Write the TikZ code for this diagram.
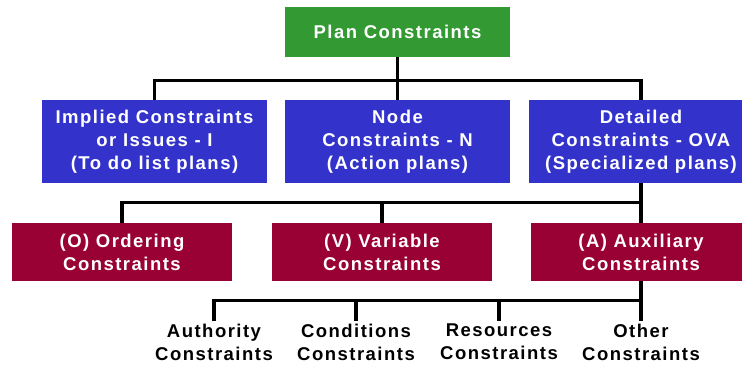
\documentclass[tikz,border=0pt]{standalone}
\usepackage{fontspec}
\setmainfont{Liberation Sans}[LetterSpace=8]
\definecolor{plangreen}{RGB}{51,153,51}
\definecolor{nodeblue}{RGB}{51,51,204}
\definecolor{ovared}{RGB}{153,0,51}
\tikzset{%
  planbox/.style = {shape=rectangle, fill=plangreen, text=white,%
                    minimum width=225bp, minimum height=50bp},%
  kindbox/.style = {planbox, fill=nodeblue, minimum height=83bp},%
  ovabox/.style  = {planbox, fill=ovared, minimum width=220bp, minimum height=58bp},%
  leaf/.style    = {text=black, inner sep=3bp},%
  bus/.style     = {draw=black, line width=3.3bp}%
}

\begin{document}
\begin{tikzpicture}[x=1bp, y=-1bp,%
    every node/.style = {font=\fontsize{18.5bp}{23bp}\selectfont\bfseries, align=center}]%
	\useasboundingbox (0,0) rectangle (742,364);
	% top level
	\node (plan) at (397.5,32) [planbox] {Plan Constraints};%
	\node (implied) at (154.5,141.5) [kindbox] {Implied Constraints\\or Issues - I\\(To do list plans)};%
	\node (nodec) at (397.5,141.5) [kindbox] {Node\\Constraints - N\\(Action plans)};%
	\node (detail) at (641,141.5) [kindbox] {Detailed\\Constraints - OVA\\(Specialized plans)};%
	% OVA level
	\node (ordering) at (122,252) [ovabox] {(O) Ordering\\Constraints};%
	\node (variable) at (382,252) [ovabox] {(V) Variable\\Constraints};%
	\node (aux) at (641,252) [ovabox] {(A) Auxiliary\\Constraints};%
	% auxiliary kinds
	\node (authority) at (214,342) [leaf] {Authority\\Constraints};%
	\node (conditions) at (356,342) [leaf] {Conditions\\Constraints};%
	\node (resources) at (499,342) [leaf] {Resources\\Constraints};%
	\node (other) at (641,342) [leaf] {Other\\Constraints};%
	% connectors
	\draw[bus] (plan.south) -- ++(0,23) -| (implied.north);%
	\draw[bus] (plan.south) -- (nodec.north);%
	\draw[bus] (plan.south) -- ++(0,23) -| (detail.north);%
	\draw[bus] (detail.south) -- ++(0,19) -| (ordering.north);%
	\draw[bus] (detail.south) -- ++(0,19) -| (variable.north);%
	\draw[bus] (detail.south) -- (aux.north);%
	\draw[bus] (aux.south) -- ++(0,19) -| (authority.north);%
	\draw[bus] (aux.south) -- ++(0,19) -| (conditions.north);%
	\draw[bus] (aux.south) -- ++(0,19) -| (resources.north);%
	\draw[bus] (aux.south) -- (other.north);%
\end{tikzpicture}
\end{document}
